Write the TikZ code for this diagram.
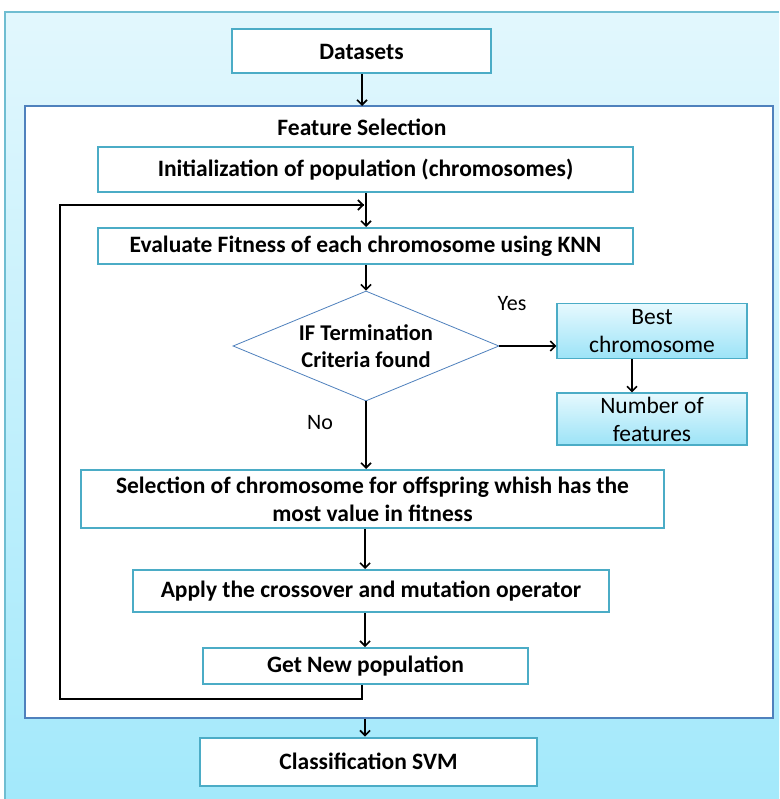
\documentclass[tikz,border=0pt]{standalone}
\usepackage{fontspec}
\setmainfont{Carlito}
\usetikzlibrary{arrows.meta,shapes.geometric}
\definecolor{teal1}{HTML}{4BACC6}
\definecolor{blue1}{HTML}{4F81BD}
\definecolor{bgtop}{HTML}{E2F7FD}
\definecolor{bgbot}{HTML}{A3E9FB}
\definecolor{gtop}{HTML}{E6F9FE}
\definecolor{gbot}{HTML}{9CE3F7}
\tikzset{
  box/.style={draw=teal1, line width=2pt, fill=white, inner sep=0pt, align=center,
    font=\fontsize{23.5}{28}\selectfont\bfseries},
  gbox/.style={draw=teal1, line width=1.2pt, top color=gtop, bottom color=gbot, inner sep=0pt,
    align=center, font=\fontsize{23.5}{28}\selectfont},
  fsbox/.style={draw=blue1, line width=2pt, fill=white, inner sep=0pt},
  dia/.style={diamond, draw=blue1, line width=0.8pt, fill=white, inner sep=0pt, aspect=2.4,
    align=center, font=\fontsize{22.5}{27}\selectfont\bfseries},
  lbl/.style={inner sep=0pt, font=\fontsize{22}{26}\selectfont},
  arr/.style={line width=1.8pt, -{Straight Barb[length=5pt,width=10pt,line width=1.6pt]}},
  ln/.style={line width=1.8pt}
}
\begin{document}
\begin{tikzpicture}[x=1pt,y=-1pt]
\useasboundingbox (0,0) rectangle (779,799);
\shade[top color=bgtop, bottom color=bgbot] (5,12) rectangle (779,799);
\draw[color=teal1!80, line width=1.5pt] (5,799) -- (5,12) -- (779,12);
\node[box, minimum width=259pt, minimum height=44pt] (ds) at (361.5,51.5) {Datasets};
\node[fsbox, minimum width=748pt, minimum height=612pt] (fs) at (399,412) {};
\node[inner sep=0pt, font=\fontsize{23.5}{28}\selectfont\bfseries] (fst) at (362,127) {Feature Selection};
\node[box, minimum width=535pt, minimum height=45pt] (init) at (365.5,169.5) {Initialization of population (chromosomes)};
\node[box, minimum width=535pt, minimum height=36pt] (eval) at (365.5,246) {Evaluate Fitness of each chromosome using KNN};
\node[dia, minimum width=266pt, minimum height=110pt] (cond) at (366,346) {IF Termination\\Criteria found};
\node[gbox, minimum width=190pt, minimum height=55pt] (best) at (652,331) {Best\\chromosome};
\node[gbox, minimum width=190pt, minimum height=52pt] (num) at (652,419) {Number of\\features};
\node[box, minimum width=583pt, minimum height=58pt] (sel) at (372.5,499) {Selection of chromosome for offspring whish has the\\most value in fitness};
\node[box, minimum width=476pt, minimum height=42pt] (app) at (371,591) {Apply the crossover and mutation operator};
\node[box, minimum width=325pt, minimum height=36pt] (gnp) at (365.5,666) {Get New population};
\node[box, minimum width=337pt, minimum height=48pt] (cls) at (368.5,761.5) {Classification SVM};
\node[lbl] (yes) at (512,304) {Yes};
\node[lbl] (no) at (320,423) {No};
\coordinate (lp1) at (362,699);
\coordinate (lp2) at (60,699);
\coordinate (lp3) at (60,205);
\coordinate (lp4) at (364,205);
\coordinate (bx) at (632,0);
% connectors
\draw[arr] (ds.south -| 362,0) -- (362,106);
\draw[arr] (init.south -| 366,0) -- (eval.north -| 366,0);
\draw[arr] (eval.south -| 366,0) -- (cond.north);
\draw[arr] (cond.south) -- (sel.north -| cond.south);
\draw[arr] (cond.east) -- (cond.east -| best.west);
\draw[arr] (best.south -| bx) -- (num.north -| bx);
\draw[arr] (sel.south -| 365,0) -- (app.north -| 365,0);
\draw[arr] (app.south -| 365,0) -- (gnp.north -| 365,0);
\draw[ln] (gnp.south -| lp1) -- (lp1) -- (lp2) -- (lp3) -- (lp4);
\draw[arr] (lp3) -- (lp4);
\draw[arr] (fs.south -| 365,0) -- (cls.north -| 365,0);
\end{tikzpicture}
\end{document}
